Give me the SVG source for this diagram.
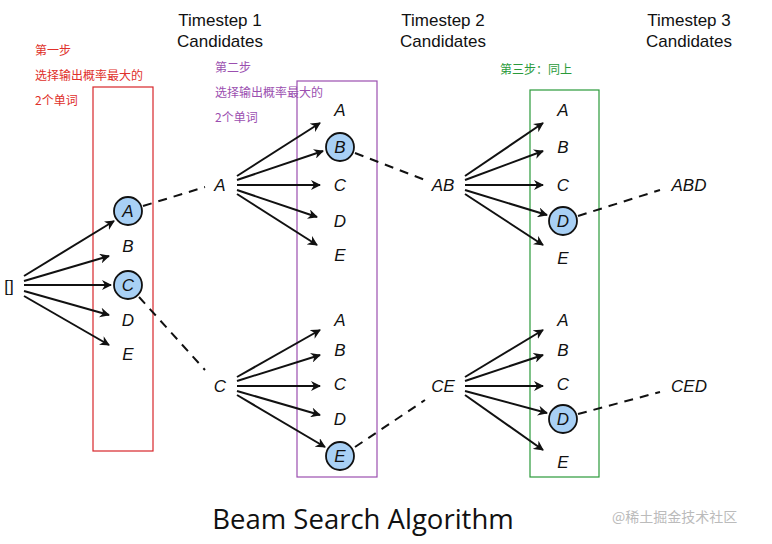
<svg xmlns="http://www.w3.org/2000/svg" width="772" height="544" viewBox="0 0 772 544">
<style>
.t{font-family:"Liberation Sans",Arial,sans-serif;font-size:17px;font-style:italic;text-anchor:middle;dominant-baseline:central;fill:#111}
.h{font-family:"Liberation Sans",Arial,sans-serif;font-size:17px;text-anchor:middle;fill:#111}
.c{fill:#a8d0f5;stroke:#111;stroke-width:1.8}
.a{stroke:#111;stroke-width:2;fill:none;marker-end:url(#ah)}
.d{stroke:#111;stroke-width:2;fill:none;stroke-dasharray:9,7}
.n{font-family:"Noto Sans CJK SC",sans-serif;font-size:12px}
</style>
<defs><marker id="ah" viewBox="0 0 10 10" refX="9" refY="5" markerWidth="5" markerHeight="5" orient="auto"><path d="M0,0L10,5L0,10L3,5Z" fill="#111"/></marker></defs>
<rect width="772" height="544" fill="#fff"/>
<text class="h" x="220" y="26">Timestep 1</text><text class="h" x="220" y="47">Candidates</text>
<text class="h" x="443" y="26">Timestep 2</text><text class="h" x="443" y="47">Candidates</text>
<text class="h" x="689" y="26">Timestep 3</text><text class="h" x="689" y="47">Candidates</text>
<g class="n" fill="#e0302a"><text x="35" y="55">第一步</text><text x="35" y="80">选择输出概率最大的</text><text x="35" y="105">2个单词</text></g>
<g class="n" fill="#9b4fb0"><text x="215" y="72">第二步</text><text x="215" y="97">选择输出概率最大的</text><text x="215" y="122">2个单词</text></g>
<g class="n" fill="#2a9a3a"><text x="500" y="74">第三步：同上</text></g>
<rect x="93" y="87" width="60" height="364" fill="none" stroke="#d8262a" stroke-width="1.2"/>
<rect x="297" y="81" width="80" height="396" fill="none" stroke="#9b4fb0" stroke-width="1.2"/>
<rect x="530" y="90" width="69" height="387" fill="none" stroke="#2a9a3a" stroke-width="1.2"/>
<g id="connectors">
<path class="a" d="M24,276L114,221"/><path class="a" d="M24,281L109,256"/><path class="a" d="M24,285L111,285"/><path class="a" d="M24,291L109,315"/><path class="a" d="M24,296L109,345"/>
<path class="d" d="M143,206L205,187"/><path class="d" d="M139,297L205,370"/>
<path class="a" d="M237,176L320,123"/><path class="a" d="M237,180L323,151"/><path class="a" d="M237,185L320,185"/><path class="a" d="M237,190L317,217"/><path class="a" d="M237,194L317,245"/>
<path class="a" d="M237,377L320,330"/><path class="a" d="M237,381L320,355"/><path class="a" d="M237,386L320,386"/><path class="a" d="M237,391L320,415"/><path class="a" d="M237,395L325,447"/>
<path class="d" d="M355,153L425,180"/><path class="d" d="M355,447L425,400"/>
<path class="a" d="M465,176L543,123"/><path class="a" d="M465,180L543,151"/><path class="a" d="M465,185L543,185"/><path class="a" d="M465,190L547,215"/><path class="a" d="M465,194L543,245"/>
<path class="a" d="M465,377L543,330"/><path class="a" d="M465,381L543,355"/><path class="a" d="M465,386L543,386"/><path class="a" d="M465,391L547,413"/><path class="a" d="M465,395L543,450"/>
<path class="d" d="M578,216L660,190"/><path class="d" d="M578,414L660,392"/>
</g>
<g id="root"><text class="h" x="9" y="292" font-style="normal">[]</text></g>
<g id="s1">
<circle class="c" cx="128" cy="211" r="14"/><text class="t" x="128" y="211">A</text>
<text class="t" x="128" y="246">B</text>
<circle class="c" cx="128" cy="285" r="14"/><text class="t" x="128" y="285">C</text>
<text class="t" x="128" y="320">D</text><text class="t" x="128" y="354">E</text>
</g>
<g id="t1"><text class="t" x="220" y="185">A</text><text class="t" x="220" y="386">C</text></g>
<g id="s2a">
<text class="t" x="340" y="110">A</text>
<circle class="c" cx="340" cy="147" r="14"/><text class="t" x="340" y="147">B</text>
<text class="t" x="340" y="185">C</text><text class="t" x="340" y="221">D</text><text class="t" x="340" y="255">E</text>
</g>
<g id="s2c">
<text class="t" x="340" y="320">A</text><text class="t" x="340" y="350">B</text><text class="t" x="340" y="384">C</text><text class="t" x="340" y="419">D</text>
<circle class="c" cx="340" cy="456" r="14"/><text class="t" x="340" y="456">E</text>
</g>
<g id="t2"><text class="t" x="443" y="185">AB</text><text class="t" x="443" y="386">CE</text></g>
<g id="s3a">
<text class="t" x="563" y="110">A</text><text class="t" x="563" y="147">B</text><text class="t" x="563" y="185">C</text>
<circle class="c" cx="563" cy="221" r="14"/><text class="t" x="563" y="221">D</text>
<text class="t" x="563" y="258">E</text>
</g>
<g id="s3c">
<text class="t" x="563" y="320">A</text><text class="t" x="563" y="350">B</text><text class="t" x="563" y="384">C</text>
<circle class="c" cx="563" cy="419" r="14"/><text class="t" x="563" y="419">D</text>
<text class="t" x="563" y="462">E</text>
</g>
<g id="t3"><text class="t" x="689" y="185">ABD</text><text class="t" x="689" y="386">CED</text></g>
<text x="363" y="529" font-family="Open Sans,sans-serif" font-size="27.5" text-anchor="middle" fill="#111">Beam Search Algorithm</text>
<text x="612" y="522" font-family="Noto Sans CJK SC,sans-serif" font-size="14" fill="#bbb">@稀土掘金技术社区</text>
</svg>
